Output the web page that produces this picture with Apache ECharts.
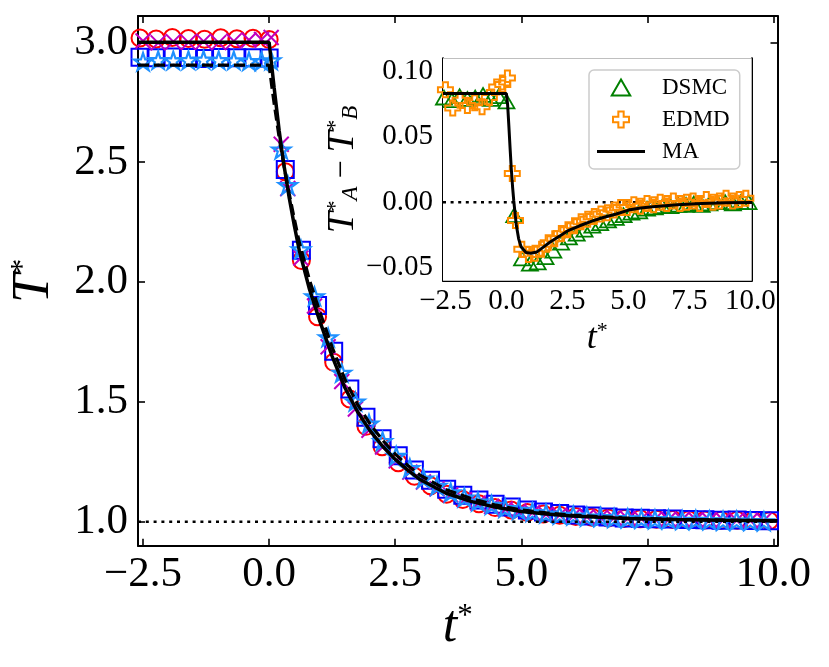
<!DOCTYPE html>
<html>
<head>
<meta charset="utf-8">
<script src="https://cdn.jsdelivr.net/npm/echarts@6/dist/echarts.min.js"></script>
<style>
  html, body { margin: 0; padding: 0; background: #fff; }
  #chart { width: 829px; height: 667px; }
</style>
</head>
<body>
<div id="chart"></div>
<script>
// tick positions
const mainTicksX = [-2.5, 0, 2.5, 5, 7.5, 10];
const mainTicksY = [1.0, 1.5, 2.0, 2.5, 3.0];
const insetTicksY = [-0.05, 0, 0.05, 0.1];

// DSMC samples (main: red circles = A, blue squares = B; inset: green triangles)
const dsmcT = [-2.56, -2.24, -1.92, -1.60, -1.28, -0.96, -0.64, -0.32, 0.00,
  0.32, 0.64, 0.96, 1.28, 1.60, 1.92, 2.24, 2.56, 2.88, 3.20, 3.52, 3.84, 4.16,
  4.48, 4.80, 5.12, 5.44, 5.76, 6.08, 6.40, 6.72, 7.04, 7.36, 7.68, 8.00, 8.32,
  8.64, 8.96, 9.28, 9.60, 9.92];
const dsmcA = [3.018, 3.014, 3.020, 3.016, 3.013, 3.019, 3.015, 3.017, 3.012,
  2.460, 2.090, 1.855, 1.665, 1.512, 1.398, 1.313, 1.246, 1.190, 1.150, 1.115,
  1.093, 1.075, 1.059, 1.049, 1.039, 1.032, 1.027, 1.022, 1.019, 1.016, 1.013,
  1.012, 1.010, 1.009, 1.008, 1.007, 1.006, 1.006, 1.005, 1.004];
const dsmcB = [2.938, 2.936, 2.939, 2.937, 2.933, 2.937, 2.936, 2.936, 2.935,
  2.470, 2.133, 1.902, 1.711, 1.554, 1.436, 1.346, 1.275, 1.216, 1.173, 1.135,
  1.111, 1.091, 1.073, 1.061, 1.049, 1.041, 1.034, 1.028, 1.024, 1.020, 1.016,
  1.015, 1.012, 1.011, 1.009, 1.008, 1.006, 1.007, 1.005, 1.004];
const dsmcDiff = [0.080, 0.078, 0.081, 0.079, 0.080, 0.082, 0.079, 0.081, 0.077,
  -0.010, -0.043, -0.047, -0.046, -0.042, -0.037, -0.031, -0.027, -0.024, -0.021,
  -0.018, -0.016, -0.014, -0.012, -0.010, -0.008, -0.007, -0.005, -0.004, -0.003,
  -0.003, -0.002, -0.002, -0.001, -0.002, -0.001, 0.000, 0.000, -0.001, 0.000, 0.000];

// EDMD samples (main: magenta x = A, blue stars = B; inset: orange plus)
const edmdT = [-2.50, -2.20, -1.90, -1.60, -1.30, -1.00, -0.70, -0.40, -0.15, 0.04,
  0.24, 0.37, 0.63, 0.90, 1.17, 1.44, 1.71, 1.98, 2.25, 2.52, 2.79, 3.06, 3.33,
  3.60, 3.87, 4.14, 4.41, 4.68, 4.95, 5.22, 5.49, 5.76, 6.03, 6.30, 6.57, 6.84,
  7.11, 7.38, 7.65, 7.92, 8.19, 8.46, 8.73, 9.00, 9.27, 9.54, 9.81];
const edmdA = [3.006, 2.998, 3.003, 3.000, 3.004, 2.999, 3.005, 3.010, 3.012, 3.020,
  2.575, 2.390, 2.100, 1.900, 1.730, 1.585, 1.470, 1.382, 1.312, 1.254, 1.207,
  1.166, 1.137, 1.112, 1.092, 1.077, 1.064, 1.053, 1.045, 1.038, 1.031, 1.028,
  1.024, 1.021, 1.018, 1.016, 1.013, 1.012, 1.011, 1.009, 1.009, 1.008, 1.007,
  1.007, 1.006, 1.005, 1.005];
const edmdB = [2.920, 2.926, 2.925, 2.926, 2.928, 2.926, 2.925, 2.922, 2.922, 2.925,
  2.553, 2.404, 2.136, 1.940, 1.769, 1.621, 1.501, 1.409, 1.336, 1.275, 1.224,
  1.180, 1.150, 1.122, 1.101, 1.084, 1.070, 1.057, 1.049, 1.040, 1.034, 1.029,
  1.026, 1.021, 1.019, 1.015, 1.014, 1.012, 1.010, 1.010, 1.007, 1.008, 1.006,
  1.004, 1.005, 1.003, 1.002];
const edmdDiff = [0.086, 0.072, 0.078, 0.074, 0.076, 0.073, 0.080, 0.088, 0.090, 0.095,
  0.022, -0.014, -0.036, -0.040, -0.039, -0.036, -0.031, -0.028, -0.024, -0.021,
  -0.018, -0.015, -0.013, -0.011, -0.009, -0.008, -0.006, -0.004, -0.004, -0.002,
  -0.003, -0.001, -0.002, 0.000, -0.001, 0.001, -0.001, 0.000, 0.001, -0.001,
  0.002, 0.000, 0.001, 0.003, 0.001, 0.002, 0.003];

// MA curves
const maT = [-2.6, 0, 0.05, 0.1, 0.15, 0.2, 0.25, 0.3, 0.4, 0.5, 0.6, 0.8, 1.0,
  1.25, 1.5, 1.75, 2.0, 2.25, 2.5, 2.75, 3.0, 3.5, 4.0, 4.5, 5.0, 5.5, 6.0, 7.0,
  8.0, 9.0, 10.08];
const maTA = [3.0, 3.0, 2.905, 2.81, 2.72, 2.63, 2.553, 2.48, 2.35, 2.235, 2.13,
  1.97, 1.84, 1.69, 1.56, 1.46, 1.38, 1.315, 1.26, 1.215, 1.175, 1.12, 1.085,
  1.06, 1.043, 1.032, 1.024, 1.014, 1.009, 1.006, 1.004];
const maTB = [2.905, 2.905, 2.821, 2.744, 2.673, 2.601, 2.539, 2.479, 2.367, 2.263,
  2.164, 2.009, 1.879, 1.728, 1.595, 1.491, 1.408, 1.34, 1.282, 1.235, 1.193,
  1.135, 1.097, 1.069, 1.049, 1.037, 1.028, 1.016, 1.01, 1.007, 1.004];
const maDiff = [0.083, 0.083, 0.074, 0.058, 0.041, 0.025, 0.012, 0.001, -0.017,
  -0.028, -0.034, -0.0385, -0.039, -0.038, -0.0345, -0.031, -0.028, -0.025,
  -0.022, -0.020, -0.018, -0.0145, -0.0115, -0.009, -0.006, -0.0045, -0.0035,
  -0.002, -0.001, -0.0005, -0.0002];

// reference levels (dotted)
const refT = [-2.6, 10.08];
const mainRef = 1.0;
const insetRef = 0.0;

const FONT = 'Liberation Serif';
const SYM_X = 'path://M0,0L10,10M10,0L0,10';
const SYM_PLUS = 'path://M1,0L2,0L2,1L3,1L3,2L2,2L2,3L1,3L1,2L0,2L0,1L1,1Z';
const SYM_STAR = 'path://M1,0L1.2245,0.691L1.951,0.691L1.363,1.118L1.588,1.809L1,1.382L0.412,1.809L0.637,1.118L0.049,0.691L0.7755,0.691Z';
const SYM_TRI = 'path://M5,0L10,8.66L0,8.66Z';
const SYM_LINE = 'path://M0,0L48,0L48,3.2L0,3.2Z';

function zip(xs, ys) {
  let out = [];
  for (let i = 0; i < xs.length; i++) out.push([xs[i], ys[i]]);
  return out;
}
function fmt(d) {
  return function (v) {
    let s = Math.abs(v).toFixed(d);
    return (v < -1e-9 ? '\u2212' : '') + s;
  };
}

function xAx(grid, pos, min, max, ticks, labelOpts, name) {
  let a = {
    gridIndex: grid, type: 'value', position: pos, min: min, max: max,
    axisLine: { show: true, onZero: false, lineStyle: { color: '#000', width: 2 } },
    axisTick: { show: true, inside: true, length: 7, customValues: ticks,
      lineStyle: { color: '#000', width: 1.6 } },
    axisLabel: labelOpts ? Object.assign({ show: true, customValues: ticks, color: '#000',
      fontFamily: FONT }, labelOpts) : { show: false },
    splitLine: { show: false }
  };
  if (name) Object.assign(a, name);
  return a;
}

const supRich = function (big) {
  return {
    t: { fontFamily: FONT, fontStyle: 'italic', fontSize: big, lineHeight: big, color: '#000' },
    p: { fontFamily: FONT, fontSize: Math.round(big * 0.6), lineHeight: Math.round(big * 0.6),
      verticalAlign: 'top', color: '#000' },
    b: { fontFamily: FONT, fontStyle: 'italic', fontSize: Math.round(big * 0.6),
      lineHeight: Math.round(big * 0.6), verticalAlign: 'bottom', color: '#000' },
    m: { fontFamily: FONT, fontSize: Math.round(big * 0.85), lineHeight: big, color: '#000' }
  };
};

let chart = echarts.init(document.getElementById('chart'), null, { renderer: 'canvas' });

let option = {
  animation: false,
  backgroundColor: '#fff',
  grid: [
    { left: 135.5, top: 16, width: 642, height: 529.7 },
    { left: 443, top: 58.3, width: 308.7, height: 222.4, show: true,
      backgroundColor: '#fff', borderWidth: 0, z: 5 }
  ],
  xAxis: [
    xAx(0, 'bottom', -2.6, 10.08, mainTicksX, { fontSize: 43, margin: 8, formatter: fmt(1) },
      { name: '{t|t}{p|*}', nameLocation: 'middle', nameGap: 54,
        nameTextStyle: { rich: supRich(52) } }),
    xAx(0, 'top', -2.6, 10.08, mainTicksX, null),
    xAx(1, 'bottom', -2.6, 10.05, mainTicksX, { fontSize: 29, margin: 6, formatter: fmt(1) },
      { name: '{t|t}{p|*}', nameLocation: 'middle', nameGap: 40,
        nameTextStyle: { rich: supRich(36) } }),
    xAx(1, 'top', -2.6, 10.05, mainTicksX, null)
  ],
  yAxis: [
    xAx(0, 'left', 0.9, 3.11, mainTicksY, { fontSize: 43, margin: 10, formatter: fmt(1) },
      { name: '{t|T}{p|*}', nameLocation: 'middle', nameGap: 78, nameRotate: 90,
        nameTextStyle: { rich: supRich(52) } }),
    xAx(0, 'right', 0.9, 3.11, mainTicksY, null),
    xAx(1, 'left', -0.06, 0.11, insetTicksY, { fontSize: 29, margin: 10, formatter: fmt(2) },
      { name: '{t|T}{p|*}{b|A}{m| \u2212 }{t|T}{p|*}{b|B}', nameLocation: 'middle',
        nameGap: 72, nameRotate: 90, nameTextStyle: { rich: supRich(38) } }),
    xAx(1, 'right', -0.06, 0.11, insetTicksY, null)
  ],
  legend: {
    data: [{ name: 'DSMC' }, { name: 'EDMD' }, { name: 'MA', icon: SYM_LINE }],
    orient: 'vertical', left: 589, top: 70, z: 20,
    itemWidth: 48, itemHeight: 16, itemGap: 9,
    backgroundColor: 'rgba(255,255,255,0.85)',
    borderColor: '#cccccc', borderWidth: 1.5, borderRadius: 5,
    padding: [6, 10, 6, 8],
    textStyle: { fontFamily: FONT, fontSize: 23, color: '#000', padding: [0, 0, 0, 12] }
  },
  series: [
    // main panel
    { name: 'DSMC A', type: 'scatter', xAxisIndex: 0, yAxisIndex: 0, data: zip(dsmcT, dsmcA),
      symbol: 'circle', symbolSize: 17,
      itemStyle: { color: 'none', borderColor: '#ff0000', borderWidth: 2, opacity: 1 } },
    { name: 'DSMC B', type: 'scatter', xAxisIndex: 0, yAxisIndex: 0, data: zip(dsmcT, dsmcB),
      symbol: 'rect', symbolSize: 17,
      itemStyle: { color: 'none', borderColor: '#0000ff', borderWidth: 2, opacity: 1 } },
    { name: 'EDMD A', type: 'scatter', xAxisIndex: 0, yAxisIndex: 0, data: zip(edmdT, edmdA),
      symbol: SYM_X, symbolSize: 15,
      itemStyle: { color: 'none', borderColor: '#bf00bf', borderWidth: 2, opacity: 1 } },
    { name: 'EDMD B', type: 'scatter', xAxisIndex: 0, yAxisIndex: 0, data: zip(edmdT, edmdB),
      symbol: SYM_STAR, symbolSize: 18, symbolKeepAspect: true,
      itemStyle: { color: 'none', borderColor: '#1e90ff', borderWidth: 2.2, opacity: 1 } },
    { name: 'ref main', type: 'line', xAxisIndex: 0, yAxisIndex: 0,
      data: zip(refT, [mainRef, mainRef]), symbol: 'none',
      lineStyle: { color: '#000', width: 2.6, type: [3, 4.8] } },
    { name: 'MA A', type: 'line', xAxisIndex: 0, yAxisIndex: 0, data: zip(maT, maTA),
      symbol: 'none', lineStyle: { color: '#000', width: 3.5 } },
    { name: 'MA B', type: 'line', xAxisIndex: 0, yAxisIndex: 0, data: zip(maT, maTB),
      symbol: 'none', lineStyle: { color: '#000', width: 3.2, type: [11, 5] } },
    // inset panel
    { name: 'ref inset', type: 'line', xAxisIndex: 2, yAxisIndex: 2,
      data: zip(refT, [insetRef, insetRef]), symbol: 'none', z: 6,
      lineStyle: { color: '#000', width: 2.4, type: [3, 4.6] } },
    { name: 'DSMC', type: 'scatter', xAxisIndex: 2, yAxisIndex: 2, data: zip(dsmcT, dsmcDiff),
      symbol: SYM_TRI, symbolSize: 16, symbolKeepAspect: true, z: 6,
      itemStyle: { color: 'none', borderColor: '#008000', borderWidth: 1.8, opacity: 1 } },
    { name: 'EDMD', type: 'scatter', xAxisIndex: 2, yAxisIndex: 2, data: zip(edmdT, edmdDiff),
      symbol: SYM_PLUS, symbolSize: 15, symbolKeepAspect: true, z: 6,
      itemStyle: { color: 'none', borderColor: '#ff8c00', borderWidth: 2, opacity: 1 } },
    { name: 'MA', type: 'line', xAxisIndex: 2, yAxisIndex: 2, data: zip(maT, maDiff),
      symbol: 'none', showSymbol: false, z: 7, color: '#000',
      itemStyle: { color: '#000' }, lineStyle: { color: '#000', width: 3 } }
  ]
};
chart.setOption(option);
</script>
</body>
</html>
